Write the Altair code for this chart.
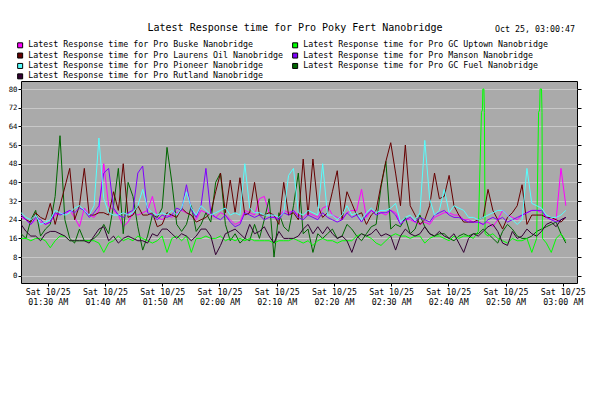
import altair as alt
import pandas as pd

MONO = "DejaVu Sans Mono"
TITLE = "Latest Response time for Pro Poky Fert Nanobridge"
STAMP = "Oct 25, 03:00:47"

names = ["Buske", "GC Uptown", "Laurens Oil", "Manson", "Pioneer", "GC Fuel", "Rutland"]
labels = [f"Latest Response time for Pro {n} Nanobridge" for n in names]
colors = ["#FF00FF", "#00FF00", "#660000", "#7F00FF", "#55FFFF", "#006600", "#330033"]
# legend fills column by column: this order gives rows Buske|GC Uptown, Laurens Oil|Manson, ...
legend_order = [0, 2, 4, 6, 1, 3, 5]

# sampling grid
start = "2025-10-25 01:25:20"
step_seconds = 51
n_points = 113

buske = [25,24,22,24,23,22,23,26,27,26,
         28,25,21,29,26,25,28,48,30,28,
         26,21,23,27,26,27,28,34,25,24,
         26,25,27,28,27,26,24,28,27,26,
         25,27,26,24,22,23,28,27,26,33,
         34,27,25,25,28,27,28,26,25,27,
         26,25,29,30,26,25,24,27,28,28,
         37,25,28,27,27,26,28,27,23,24,
         24,23,22,23,22,25,26,27,27,26,
         26,24,24,23,23,22,23,21,24,28,
         26,25,24,26,27,28,28,27,25,24,
         24,46,30]

uptown = [16,16,15,16,16,15,12,15,17,17,
          15,15,15,15,15,15,14,10,14,15,
          17,15,16,15,17,16,15,14,15,17,
          10,16,17,15,17,10,16,16,17,16,
          16,17,15,16,15,16,15,16,15,15,
          15,15,14,15,15,15,16,15,14,15,
          13,15,16,15,15,14,15,15,15,17,
          18,17,16,14,13,15,17,18,17,17,
          16,17,17,14,16,17,17,16,15,17,
          16,17,17,16,19,None,17,18,16,15,
          14,16,15,15,16,10,16,None,14,10,
          16,18,15]
uptown_spike_times = ["2025-10-25 02:45:47", "2025-10-25 02:45:57", "2025-10-25 02:46:02",
                      "2025-10-25 02:46:13", "2025-10-25 02:46:18", "2025-10-25 02:46:25",
                      "2025-10-25 02:55:46", "2025-10-25 02:55:57", "2025-10-25 02:56:02",
                      "2025-10-25 02:56:17", "2025-10-25 02:56:22", "2025-10-25 02:56:27"]
uptown_spike_values = [70, 71, 80, 80, 70, 18, 70, 71, 80, 80, 70, 16]

laurens = [26,24,23,27,25,24,31,22,30,38,
           46,24,30,46,26,26,27,27,26,36,
           28,48,25,26,30,26,26,27,21,22,
           27,26,25,29,27,26,23,24,25,27,
           36,44,27,41,27,42,26,27,40,26,
           26,27,26,22,40,26,27,24,50,26,
           50,30,25,27,36,45,24,36,31,26,
           27,22,26,28,39,49,57,44,30,56,
           30,26,22,24,30,44,33,34,43,30,
           26,23,23,23,24,25,37,28,24,20,
           25,27,30,39,22,26,26,26,25,25,
           24,23,25]

manson = [26,24,22,25,24,22,23,27,26,27,
          28,27,29,28,25,27,30,44,46,29,
          26,25,27,28,44,47,27,26,24,26,
          25,26,29,28,39,28,25,30,46,27,
          25,24,26,23,21,22,27,26,25,26,
          24,25,25,24,27,26,28,25,24,26,
          25,24,27,25,24,23,24,27,25,26,
          23,26,28,26,27,27,28,26,22,24,
          25,23,25,24,23,26,27,28,26,25,
          25,24,23,23,23,22,24,25,24,25,
          23,24,25,26,27,28,28,28,25,24,
          23,24,25]

pioneer = [27,25,24,26,22,23,24,28,27,26,
           27,29,30,28,26,30,59,33,27,26,
           26,27,26,27,30,37,29,27,26,27,
           26,28,26,29,36,29,26,30,28,26,
           27,28,29,26,27,26,48,29,27,27,
           26,26,26,25,27,43,46,27,26,28,
           27,26,48,26,26,24,26,30,26,27,
           24,27,29,27,28,28,29,31,23,25,
           26,24,27,58,33,26,28,37,27,30,
           29,28,25,25,24,25,26,27,28,28,
           26,24,22,24,46,31,30,29,26,25,
           25,26,28]

fuel = [18,16,24,28,17,20,22,34,60,24,
        16,14,20,15,15,16,18,22,18,30,
        46,18,40,34,21,11,17,26,25,29,
        55,40,22,19,22,30,19,22,27,23,
        40,44,22,15,18,14,16,15,22,16,
        24,33,8,27,21,19,30,44,18,20,
        10,18,16,18,20,16,17,22,20,17,
        15,18,21,22,38,49,20,22,21,25,
        18,20,26,21,18,17,18,18,16,15,
        17,18,17,18,18,20,18,16,14,19,
        22,20,17,16,16,17,19,20,21,22,
        23,18,14]

rutland = [22,19,17,17,15,18,19,19,18,17,
           15,15,15,15,14,17,20,21,15,17,
           14,16,17,16,15,15,14,18,17,20,
           20,18,16,18,17,15,17,20,20,17,
           9,13,18,19,20,18,16,22,18,19,
           21,17,14,19,16,16,16,17,20,22,
           18,21,18,21,18,16,17,15,10,16,
           18,17,18,20,17,18,17,11,17,20,
           18,17,18,21,18,17,19,17,16,18,
           14,10,16,18,17,19,21,22,19,14,
           13,19,16,17,20,18,17,19,22,23,
           21,24,25]

y_ticks = [0, 8, 16, 24, 32, 40, 48, 56, 64, 72, 80]
x_tick_times = [(1, 30), (1, 40), (1, 50), (2, 0), (2, 10), (2, 20), (2, 30), (2, 40), (2, 50), (3, 0)]

times = pd.date_range(start, periods=n_points, freq=f"{step_seconds}s")
rows = []
for lab, vals in zip(labels, [buske, uptown, laurens, manson, pioneer, fuel, rutland]):
    for t, v in zip(times, vals):
        if v is not None:
            rows.append({"time": t, "series": lab, "value": v})
for t, v in zip(uptown_spike_times, uptown_spike_values):
    rows.append({"time": pd.Timestamp(t), "series": labels[1], "value": v})
df = pd.DataFrame(rows).sort_values(["series", "time"]).reset_index(drop=True)

legend_labels = [labels[k] for k in legend_order]
legend_colors = [colors[k] for k in legend_order]


def dt(h, m, s=0):
    return alt.DateTime(year=2025, month=10, date=25, hours=h, minutes=m, seconds=s)


x_scale = alt.Scale(domain=[dt(1, 25, 19), dt(3, 2, 29)], nice=False)
y_scale = alt.Scale(domain=[-3.1, 83.43], nice=False, zero=False)

x_axis = alt.Axis(
    values=[dt(h, m) for h, m in x_tick_times],
    labelExpr="[timeFormat(datum.value, '%a %m/%d'), timeFormat(datum.value, '%I:%M %p')]",
    labelFont=MONO, labelFontSize=8.3, labelColor="black", labelLineHeight=10,
    labelPadding=1, labelOverlap=False, labelFlush=False, labelBound=False,
    tickColor="black", tickSize=3, tickWidth=1, grid=False, domain=False, title=None,
)
x_enc = alt.X("time:T", scale=x_scale, axis=x_axis)

lines = alt.Chart(df).mark_line(strokeWidth=1, clip=True).encode(
    x=x_enc,
    y=alt.Y("value:Q", scale=y_scale, axis=alt.Axis(
        values=y_ticks, labelFont=MONO, labelFontSize=7.3, labelColor="black",
        labelPadding=1, tickColor="black", tickSize=3, tickWidth=1,
        grid=True, gridColor="#C8C8C8", gridWidth=1, gridOpacity=1,
        domain=False, title=None)),
    stroke=alt.Stroke("series:N", scale=alt.Scale(domain=labels, range=colors), legend=None),
)

right_ticks = alt.Chart(df).mark_point(opacity=0).encode(
    x=x_enc,
    y=alt.Y("value:Q", scale=y_scale, axis=alt.Axis(
        orient="right", values=y_ticks, labels=False, tickColor="black", tickSize=4,
        tickWidth=1, grid=False, domain=False, title=None)),
)

legend_layer = alt.Chart(pd.DataFrame({"entry": legend_labels})).mark_square(
    size=25, clip=True, stroke="black", strokeWidth=1, opacity=1, fillOpacity=1
).encode(
    x=alt.value(-200), y=alt.value(-200),
    color=alt.Color("entry:N", scale=alt.Scale(domain=legend_labels, range=legend_colors),
                    legend=alt.Legend(
                        title=None, orient="none", legendX=-5, legendY=-40, columns=2,
                        columnPadding=6, rowPadding=0.4,
                        symbolType="square", symbolSize=25, symbolStrokeColor="black",
                        symbolStrokeWidth=1, symbolOpacity=1,
                        labelFont=MONO, labelFontSize=8.3, labelColor="black",
                        labelLimit=600, labelOffset=4)),
)

title_layer = alt.Chart(pd.DataFrame({"t": [TITLE]})).mark_text(
    font=MONO, fontSize=10, align="center", baseline="middle", color="black"
).encode(text="t:N", x=alt.value(274), y=alt.value(-53))

stamp_layer = alt.Chart(pd.DataFrame({"t": [STAMP]})).mark_text(
    font=MONO, fontSize=8.3, align="right", baseline="middle", color="black"
).encode(text="t:N", x=alt.value(554), y=alt.value(-51))

chart = alt.layer(lines, right_ticks, legend_layer, title_layer, stamp_layer).resolve_axis(
    y="independent"
).properties(
    width=556, height=202,
    autosize=alt.AutoSizeParams(type="none"),
    padding={"left": 13, "top": 73, "right": 25, "bottom": 95},
    background="white",
).configure_view(fill="#AAAAAA", stroke="black", strokeWidth=1)

chart.save("out.html", embed_options={"renderer": "svg", "actions": False})
